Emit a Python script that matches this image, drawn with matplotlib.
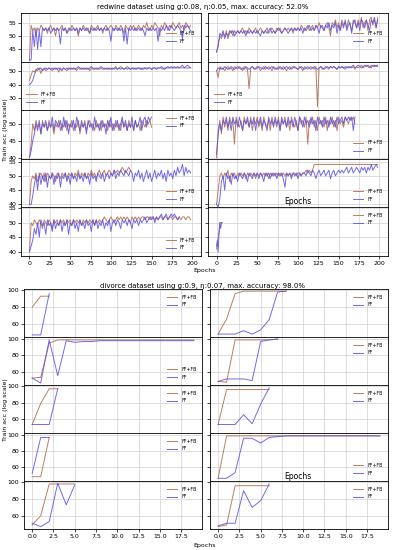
import numpy as np
import matplotlib
matplotlib.use("Agg")
import matplotlib.pyplot as plt
from matplotlib.ticker import MultipleLocator

# ---- redwine dataset (values read every 2 epochs) ----
STEP_TOP = 2
red_l1_fffb = [41, 54, 52, 53, 50, 53, 52, 54, 53, 52, 53, 51, 53, 54, 52, 53, 50, 53, 52, 53,
               54, 52, 53, 51, 53, 52, 54, 53, 52, 53, 50, 53, 52, 54, 53, 52, 53, 51, 54, 53,
               52, 53, 54, 52, 53, 51, 53, 54, 52, 53, 54, 53, 52, 54, 53, 52, 54, 53, 51, 54,
               53, 52, 54, 53, 54, 52, 53, 54, 53, 52, 54, 53, 55, 53, 52, 54, 53, 55, 54, 53,
               50, 54, 53, 55, 54, 52, 54, 53, 55, 54, 53, 54, 55, 53, 54, 52, 55, 54, 53, 54]
red_l1_ff = [41, 41, 52, 46, 53, 45, 52, 46, 53, 52, 53, 52, 53, 51, 52, 53, 52, 53, 52, 47,
             53, 52, 53, 51, 52, 53, 52, 53, 52, 53, 51, 53, 52, 53, 52, 53, 52, 51, 53, 52,
             53, 52, 53, 52, 53, 52, 53, 52, 53, 52, 48, 53, 52, 53, 52, 53, 52, 53, 48, 53,
             47, 53, 52, 53, 52, 53, 52, 53, 52, 53, 52, 50, 53, 52, 53, 52, 53, 52, 53, 48,
             53, 52, 53, 52, 54, 53, 52, 54, 53, 52, 53, 54, 53, 52, 49, 54, 53, 54, 53, 52]
red_r1_fffb = [44, 47, 50, 49, 51, 50, 52, 49, 51, 52, 50, 52, 51, 52, 51, 52, 53, 51, 52, 51,
               53, 52, 51, 52, 53, 51, 52, 53, 52, 51, 52, 53, 51, 52, 53, 52, 51, 53, 52, 53,
               51, 52, 53, 52, 53, 52, 53, 51, 53, 52, 53, 52, 54, 53, 52, 53, 54, 52, 53, 54,
               52, 54, 53, 55, 53, 54, 52, 54, 55, 53, 50, 55, 54, 56, 53, 55, 52, 56, 54, 55,
               53, 56, 54, 52, 56, 55, 53, 56, 54, 57, 53, 55, 56, 52, 56, 57, 54, 56, 53, 57]
red_r1_ff = [44, 46, 51, 50, 52, 49, 51, 50, 52, 51, 52, 50, 51, 52, 51, 52, 51, 52, 50, 52,
             51, 52, 51, 52, 51, 52, 51, 50, 52, 51, 52, 51, 52, 53, 51, 52, 51, 52, 53, 52,
             51, 52, 53, 52, 51, 52, 53, 52, 53, 52, 53, 52, 53, 51, 53, 52, 53, 54, 52, 53,
             52, 54, 53, 51, 54, 53, 52, 54, 53, 55, 52, 54, 53, 55, 51, 54, 52, 55, 53, 56,
             52, 54, 55, 51, 55, 56, 53, 55, 52, 56, 55, 53, 56, 54, 52, 56, 55, 57, 53, 56]
red_l2_fffb = [43, 47, 50, 49, 51, 50, 52, 48, 51, 52, 50, 51, 52, 51, 50, 52, 51, 52, 49, 52,
               51, 52, 51, 50, 52, 51, 52, 51, 52, 50, 52, 51, 52, 51, 52, 51, 52, 50, 52, 51,
               52, 51, 52, 51, 52, 51, 52, 51, 52, 51, 52, 51, 52, 53, 51, 52, 53, 52, 51, 52,
               53, 52, 51, 52, 52, 51, 52, 52, 52, 51, 52, 52, 52, 52, 52, 51, 52, 52, 52, 52,
               52, 52, 51, 52, 52, 52, 52, 52, 52, 52, 52, 52, 52, 52, 52, 52, 52, 52, 52, 52]
red_l2_ff = [40, 41, 43, 47, 50, 52, 51, 52, 50, 51, 52, 51, 52, 51, 52, 51, 52, 51, 52, 51,
             50, 52, 51, 52, 51, 52, 51, 52, 51, 52, 53, 52, 51, 52, 51, 52, 51, 52, 53, 52,
             51, 52, 51, 52, 53, 52, 51, 52, 51, 52, 51, 52, 51, 52, 51, 52, 51, 52, 51, 52,
             51, 52, 51, 52, 51, 52, 51, 52, 51, 52, 51, 52, 51, 52, 52, 51, 52, 52, 51, 52,
             52, 53, 52, 51, 52, 53, 52, 53, 52, 53, 52, 53, 52, 53, 54, 52, 53, 54, 53, 52]
red_r2_fffb = [50, 45, 53, 51, 52, 50, 52, 53, 51, 52, 50, 53, 52, 51, 53, 52, 50, 53, 52, 51,
               37, 52, 53, 51, 52, 53, 52, 50, 52, 53, 51, 52, 53, 52, 50, 53, 52, 51, 53, 52,
               51, 53, 52, 50, 52, 53, 51, 52, 53, 52, 51, 53, 52, 50, 53, 52, 51, 52, 53, 52,
               51, 53, 24, 52, 53, 51, 52, 53, 52, 51, 53, 52, 53, 52, 51, 53, 52, 53, 52, 51,
               53, 52, 53, 52, 53, 51, 53, 52, 53, 54, 52, 53, 54, 53, 52, 54, 53, 54, 53, 54]
red_r2_ff = [50, 52, 51, 52, 51, 53, 52, 51, 52, 53, 52, 51, 52, 53, 52, 51, 52, 51, 53, 52,
             51, 52, 53, 52, 51, 52, 53, 52, 52, 51, 53, 52, 51, 52, 53, 52, 51, 52, 51, 53,
             52, 51, 52, 53, 52, 51, 52, 53, 52, 52, 51, 52, 53, 52, 51, 52, 53, 52, 51, 52,
             53, 52, 51, 52, 53, 52, 51, 52, 53, 52, 53, 52, 53, 52, 51, 53, 52, 53, 52, 53,
             52, 53, 52, 53, 54, 52, 53, 54, 53, 52, 53, 54, 53, 54, 53, 52, 54, 53, 54, 53]
red_l3_fffb = [40, 44, 50, 48, 51, 49, 50, 47, 51, 49, 50, 48, 51, 49, 50, 47, 50, 49, 51, 48,
               50, 49, 51, 48, 50, 49, 51, 48, 50, 49, 51, 47, 50, 49, 51, 48, 50, 51, 49, 50,
               48, 51, 49, 50, 48, 51, 49, 50, 48, 51, 49, 50, 48, 51, 49, 50, 48, 51, 49, 50,
               48, 51, 49, 50, 48, 51, 49, 50, 48, 51, 50, 49, 51, 50, 51, 49]
red_l3_ff = [40, 42, 45, 47, 50, 48, 51, 47, 50, 49, 51, 48, 50, 49, 52, 48, 51, 50, 49, 51,
             48, 52, 49, 51, 47, 50, 49, 51, 48, 52, 50, 48, 51, 49, 50, 47, 51, 49, 50, 48,
             52, 49, 50, 48, 51, 49, 50, 47, 51, 49, 52, 48, 50, 49, 51, 48, 50, 52, 49, 51,
             48, 50, 49, 52, 48, 51, 49, 50, 52, 48, 51, 52, 49, 52, 51, 52]
red_r3_fffb = [40, 48, 51, 47, 52, 49, 51, 48, 52, 50, 51, 44, 52, 50, 49, 51, 48, 52, 50, 51,
               49, 52, 48, 51, 50, 52, 49, 51, 48, 52, 50, 49, 51, 48, 52, 50, 51, 49, 52, 48,
               51, 50, 52, 49, 51, 48, 52, 50, 49, 51, 48, 52, 50, 51, 49, 52, 44, 51, 50, 52,
               49, 51, 48, 52, 50, 51, 49, 52, 48, 51, 50, 52, 49, 51, 48, 52, 50, 51, 49, 52,
               51, 50, 52, 51, 52, 50]
red_r3_ff = [41, 47, 50, 48, 51, 50, 52, 49, 51, 48, 52, 50, 51, 49, 52, 50, 48, 51, 50, 52,
             49, 51, 50, 52, 48, 51, 50, 52, 49, 51, 50, 48, 52, 50, 51, 49, 52, 50, 51, 48,
             52, 50, 51, 49, 52, 50, 51, 49, 52, 50, 48, 52, 51, 49, 52, 50, 51, 49, 52, 50,
             51, 48, 52, 50, 51, 49, 52, 50, 51, 49, 52, 50, 51, 49, 52, 50, 51, 52, 50, 52,
             51, 52, 51, 52, 48, 52]
red_l4_fffb = [40, 48, 50, 49, 51, 48, 50, 51, 49, 51, 48, 51, 50, 49, 51, 50, 48, 51, 50, 49,
               51, 50, 51, 49, 51, 50, 51, 49, 51, 50, 52, 49, 51, 50, 51, 49, 51, 50, 52, 50,
               51, 49, 51, 52, 50, 51, 52, 50, 51, 52, 51, 50, 52, 51, 52, 51, 52, 53, 52, 51,
               52, 53, 52]
red_l4_ff = [40, 40, 43, 47, 50, 45, 51, 47, 50, 48, 51, 46, 50, 49, 51, 47, 50, 49, 51, 46,
             50, 49, 51, 48, 50, 47, 51, 49, 50, 48, 51, 49, 50, 48, 51, 49, 50, 47, 51, 49,
             50, 48, 51, 50, 49, 51, 48, 50, 51, 49, 51, 50, 52, 49, 51, 50, 52, 51, 50, 52,
             51, 50, 52, 51, 48, 51, 50, 52, 49, 51, 48, 50, 52, 49, 51, 48, 50, 52, 49, 51,
             50, 52, 49, 51, 48, 52, 50, 51, 49, 52, 50, 53, 51, 52, 54, 50, 53, 51, 52, 51]
red_r4_fffb = [40, 45, 50, 51, 49, 51, 50, 52, 48, 51, 50, 51, 49, 51, 50, 51, 50, 51, 49, 51,
               50, 51, 50, 51, 49, 51, 50, 51, 50, 51, 50, 51, 49, 51, 50, 51, 50, 51, 50, 51,
               50, 51, 50, 51, 50, 51, 50, 51, 51, 50, 51, 51, 50, 51, 51, 52, 51, 52, 51, 52,
               54, 54, 54, 54, 54, 54, 54, 54, 54, 54, 54, 54, 54, 54, 54, 54, 54, 54, 54, 54,
               54, 54, 54, 54, 54, 54, 54, 54, 54, 54, 54, 54, 54, 54, 54, 54, 54, 54, 54, 54]
red_r4_ff = [40, 39, 42, 48, 50, 45, 51, 49, 50, 47, 51, 49, 50, 48, 51, 50, 49, 51, 50, 48,
             51, 50, 49, 51, 50, 51, 49, 51, 50, 48, 51, 50, 51, 49, 51, 50, 51, 49, 51, 50,
             51, 49, 46, 51, 50, 51, 49, 51, 50, 51, 49, 51, 50, 51, 51, 50, 52, 51, 50, 52,
             51, 49, 51, 52, 50, 51, 52, 50, 51, 52, 49, 51, 52, 50, 51, 52, 51, 52, 51, 52,
             53, 51, 52, 53, 51, 52, 53, 52, 51, 53, 52, 53, 51, 53, 52, 54, 52, 53, 54, 53]
red_l5_fffb = [40, 50, 49, 51, 50, 49, 51, 50, 48, 51, 50, 49, 51, 50, 48, 51, 50, 51, 49, 51,
               50, 51, 49, 51, 50, 51, 49, 51, 50, 51, 50, 51, 49, 51, 50, 51, 50, 51, 50, 51,
               49, 51, 50, 51, 50, 51, 52, 51, 50, 51, 52, 51, 50, 51, 52, 51, 52, 51, 52, 51,
               52, 51, 50, 52, 51, 52, 51, 52, 51, 52, 52, 51, 52, 52, 51, 52, 52, 51, 52, 51,
               52, 52, 51, 52, 52, 51, 52, 52, 51, 52, 52, 51, 52, 51, 52, 52, 51, 52, 52, 51]
red_l5_ff = [40, 42, 44, 48, 46, 50, 45, 51, 49, 50, 46, 51, 49, 50, 47, 51, 48, 50, 49, 51,
             47, 50, 49, 51, 46, 50, 49, 51, 48, 50, 47, 51, 49, 50, 48, 51, 49, 50, 47, 51,
             49, 51, 48, 50, 49, 51, 48, 50, 49, 51, 47, 50, 51, 49, 51, 50, 48, 51, 50, 51,
             49, 51, 50, 48, 51, 50, 51, 49, 51, 50, 51, 52, 50, 51, 52, 51, 52, 50, 52, 51,
             52, 53, 51, 52, 53, 51, 52, 53, 52, 53, 52, 51, 52]
# short run, every epoch
red_r5_epochs = [0, 1, 2, 3, 4, 5, 6, 7]
red_r5_fffb = [41, 43, 45, 47, 50, 50, 50, 50]
red_r5_ff = [42, 44, 40, 46, 50, 48, 50, 50]

# ---- divorce dataset (every epoch) ----
div_l1_fffb = [80, 93, 93]
div_l1_ff = [47, 47, 96]
div_r1_fffb = [48, 66, 96, 99, 99, 99, 99, 99, 99]
div_r1_ff = [48, 48, 48, 52, 48, 53, 65, 98, 99]
div_l2_fffb = [52, 53, 95, 99, 99, 99, 99, 99, 99, 99, 99, 99, 99, 99, 99, 99, 99, 99, 99, 99]
div_l2_ff = [52, 46, 99, 55, 98, 96, 97, 97, 98, 98, 98, 98, 98, 98, 98, 98, 98, 98, 98, 98]
div_r2_fffb = [48, 47, 99, 99, 99, 99, 99, 100]
div_r2_ff = [48, 51, 51, 51, 49, 97, 99, 100]
div_l3_fffb = [53, 79, 97, 97]
div_l3_ff = [53, 53, 53, 97]
div_r3_fffb = [53, 96, 96, 96, 96, 96, 96]
div_r3_ff = [53, 53, 53, 65, 54, 78, 98]
div_l4_fffb = [48, 48, 97]
div_l4_ff = [52, 97, 97]
div_r4_fffb = [46, 99, 99, 99, 99, 99, 99, 99, 99, 99, 99, 99, 99, 99, 99, 99, 99, 99, 99, 99]
div_r4_ff = [46, 46, 53, 96, 96, 90, 97, 98, 99, 99, 99, 99, 99, 99, 99, 99, 99, 99, 99, 99]
div_l5_fffb = [49, 60, 98, 98, 98, 98]
div_l5_ff = [51, 47, 53, 99, 73, 97]
div_r5_fffb = [47, 49, 96, 96, 96, 96, 96]
div_r5_ff = [48, 51, 51, 90, 70, 78, 98]

C_FB = '#b5704e'
C_FF = '#5a4fe6'
FS = 4.5

plt.rcParams['font.family'] = 'DejaVu Sans'
plt.rcParams['font.size'] = FS

fig = plt.figure(figsize=(3.95, 5.5), dpi=100)


def epochs(y, step=1):
    return np.arange(len(y)) * step


def panel(ax, x1, y1, x2, y2, loc):
    ax.plot(x1, y1, color=C_FB, lw=0.7, alpha=0.9, label='FF+FB')
    ax.plot(x2, y2, color=C_FF, lw=0.7, alpha=0.85, label='FF')
    ax.grid(True, color='#d0d0d0', lw=0.5)
    ax.set_axisbelow(True)
    ax.legend(loc=loc, fontsize=3.3, frameon=False, handlelength=2.2,
              labelspacing=0.6, borderaxespad=0.8)
    ax.tick_params(labelsize=FS, length=2, width=0.5, pad=1.5)
    for s in ax.spines.values():
        s.set_linewidth(0.6)


def style_grid(axes, r, c, nrows, ylim, ystep, xlim, xstep):
    ax = axes[r, c]
    ax.set_xlim(*xlim)
    ax.xaxis.set_major_locator(MultipleLocator(xstep))
    if ylim is not None:
        ax.set_ylim(*ylim)
    ax.yaxis.set_major_locator(MultipleLocator(ystep))
    if c == 1:
        ax.tick_params(labelleft=False)
    if r < nrows - 1:
        ax.tick_params(labelbottom=False)


# top half: redwine
gs_top = fig.add_gridspec(5, 2, left=0.053, right=0.982, top=0.976, bottom=0.535,
                          hspace=0, wspace=0.04)
top_axes = gs_top.subplots()
red = [
    ((red_l1_fffb, red_l1_ff, 'center right'), (red_r1_fffb, red_r1_ff, 'center right')),
    ((red_l2_fffb, red_l2_ff, 'lower left'), (red_r2_fffb, red_r2_ff, 'lower left')),
    ((red_l3_fffb, red_l3_ff, 'upper right'), (red_r3_fffb, red_r3_ff, 'lower right')),
    ((red_l4_fffb, red_l4_ff, 'lower right'), (red_r4_fffb, red_r4_ff, 'lower right')),
    ((red_l5_fffb, red_l5_ff, 'lower right'), (None, None, 'upper right')),
]
red_ylim = [(40.4, 58.5), (21.5, 56.5), (39.7, 54), (39, 56), (38.7, 55.3)]
red_ystep = [5, 10, 5, 5, 5]
for r in range(5):
    for c in range(2):
        ax = top_axes[r, c]
        fb, ff, loc = red[r][c]
        if fb is None:
            panel(ax, red_r5_epochs, red_r5_fffb, red_r5_epochs, red_r5_ff, loc)
        else:
            panel(ax, epochs(fb, STEP_TOP), fb, epochs(ff, STEP_TOP), ff, loc)
        style_grid(top_axes, r, c, 5, red_ylim[r], red_ystep[r], (-10.5, 210.5), 25)

# bottom half: divorce
gs_bot = fig.add_gridspec(5, 2, left=0.061, right=0.982, top=0.4745, bottom=0.038,
                          hspace=0, wspace=0.045)
bot_axes = gs_bot.subplots()
div = [
    ((div_l1_fffb, div_l1_ff, 'upper right'), (div_r1_fffb, div_r1_ff, 'upper right')),
    ((div_l2_fffb, div_l2_ff, 'lower right'), (div_r2_fffb, div_r2_ff, 'upper right')),
    ((div_l3_fffb, div_l3_ff, 'upper right'), (div_r3_fffb, div_r3_ff, 'upper right')),
    ((div_l4_fffb, div_l4_ff, 'upper right'), (div_r4_fffb, div_r4_ff, 'lower right')),
    ((div_l5_fffb, div_l5_ff, 'upper right'), (div_r5_fffb, div_r5_ff, 'upper right')),
]
div_ylim = [(44.5, 101.5), (43.5, 102.5), (42.5, 101.5), (42.5, 102.5), (44, 101.5)]
for r in range(5):
    for c in range(2):
        ax = bot_axes[r, c]
        fb, ff, loc = div[r][c]
        panel(ax, epochs(fb), fb, epochs(ff), ff, loc)
        style_grid(bot_axes, r, c, 5, div_ylim[r], 20, (-0.95, 19.95), 2.5)

# texts
fig.text(0.512, 0.987, 'redwine dataset using g:0.08, \u03b7:0.05, max. accuracy: 52.0%',
         ha='center', va='center', fontsize=5)
fig.text(0.512, 0.480, 'divorce dataset using g:0.9, \u03b7:0.07, max. accuracy: 98.0%',
         ha='center', va='center', fontsize=5)
for y in (0.764, 0.255):
    fig.text(0.014, y, 'Train acc (log scale)', rotation=90, ha='center', va='center',
             fontsize=FS)
for y in (0.509, 0.009):
    fig.text(0.519, y, 'Epochs', ha='center', va='center', fontsize=FS)
for y in (0.633, 0.133):
    fig.text(0.754, y, 'Epochs', ha='center', va='center', fontsize=5.5)

fig.savefig('out.png', dpi=100)
